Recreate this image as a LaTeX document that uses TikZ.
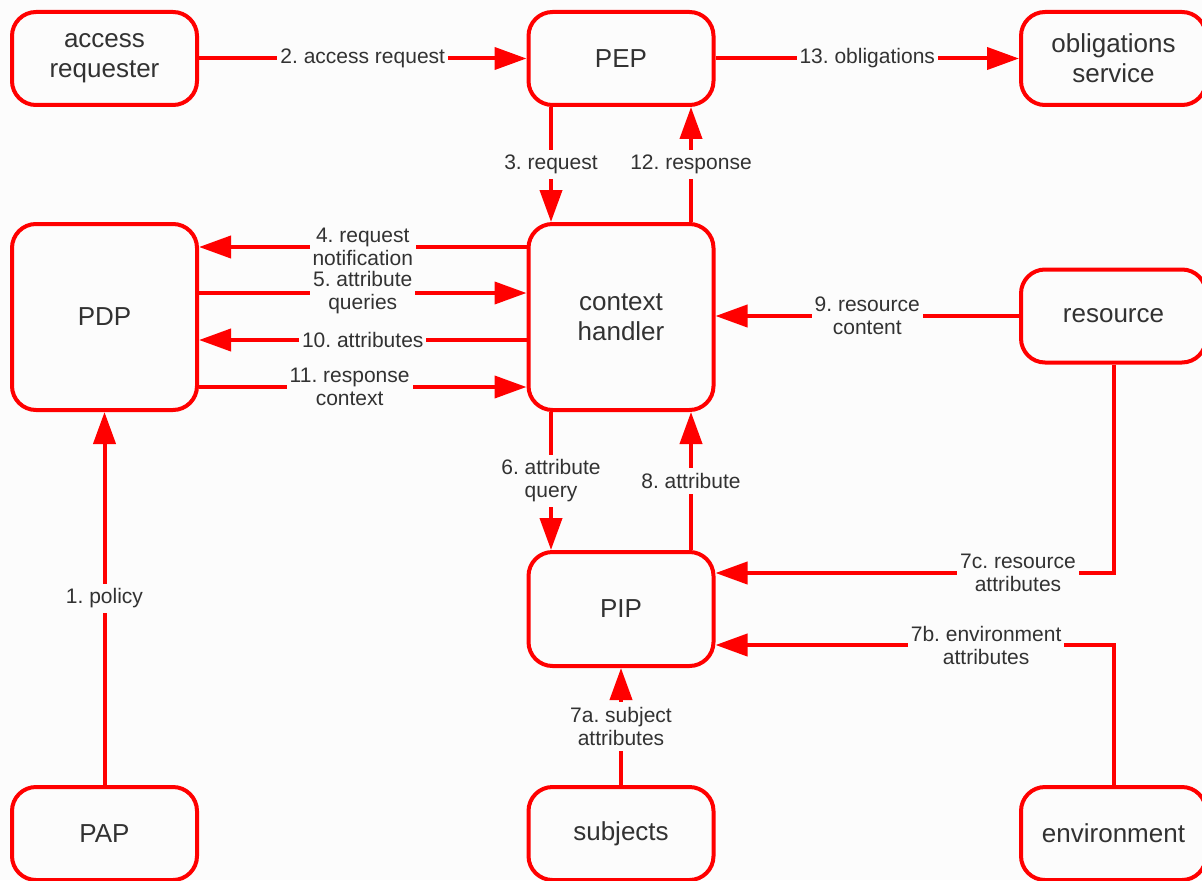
\documentclass[tikz,border=0pt]{standalone}
\usepackage{fontspec}
\setmainfont{Liberation Sans}
\usetikzlibrary{arrows.meta}
\definecolor{bgc}{RGB}{252,252,252}
\definecolor{txt}{RGB}{50,50,50}
\frenchspacing

\begin{document}
\begin{tikzpicture}[x=0.5pt,y=0.5pt,line width=2pt,draw=red,>={Triangle[length=16pt,width=11pt]}]
	\tikzstyle{box}=[draw=red,rounded corners=12pt,align=center,text=txt,
	font=\fontsize{13}{15}\selectfont,
	minimum width=92.5pt,minimum height=46.5pt,inner sep=2pt
	]
	\tikzstyle{big}=[box, minimum height=93pt];
	\tikzstyle{mid}=[box, minimum height=57pt];
	\tikzstyle{lbl}=[fill=bgc,text=txt,align=center,inner xsep=1.5pt,inner ysep=2.5pt,
	font=\fontsize{10.5}{11.5}\selectfont];

\useasboundingbox (0,0) rectangle (1202,880);
\clip (0,0) rectangle (1202,880);
\fill[bgc] (0,0) rectangle (1202,880);

\node[box](acc) at (104.5,821.5){access\\requester};
\node[box](pep) at (621,821.5){PEP};
\node[box](obl) at (1113.5,821.5){obligations\\service};
\node[big](pdp) at (104.5,563){PDP};
\node[big](ctx) at (621,563){context\\handler};
\node[box](res) at (1113.5,564){resource};
\node[mid](pip) at (621,271){PIP};
\node[box](pap) at (104.5,46.5){PAP};
\node[box](subj) at (621,46.5){subjects};
\node[box](env) at (1113.5,46.5){environment};

\draw[->] (pap) -- node[lbl]{1. policy} (pdp);
\draw[->] (acc) -- node[lbl]{2. access request} (pep);
\draw[->] ([xshift=-35pt]pep.south) -- node[lbl]{3. request} ([xshift=-35pt]ctx.north);
\draw[->] ([yshift=35pt]ctx.west) -- node[lbl]{4. request\\notification} ([yshift=35pt]pdp.east);
\draw[->] ([yshift=12pt]pdp.east) -- node[lbl]{5. attribute\\queries} ([yshift=12pt]ctx.west);
\draw[->] ([xshift=-35pt]ctx.south) -- node[lbl]{6. attribute\\query} ([xshift=-35pt]pip.north);
\draw[->] (subj) -- node[lbl]{7a. subject\\attributes} (pip);
\draw[->] (env) |- node[lbl,pos=0.66]{7b. environment\\attributes} ([yshift=-18pt]pip.east);
\draw[->] (res) |- node[lbl,pos=0.62]{7c. resource\\attributes} ([yshift=18pt]pip.east);
\draw[->] ([xshift=35pt]pip.north) -- node[lbl]{8. attribute} ([xshift=35pt]ctx.south);
\draw[->] (res.west) -- node[lbl]{9. resource\\content} (ctx.east |- res.west);
\draw[->] ([yshift=-11.5pt]ctx.west) -- node[lbl]{10. attributes} ([yshift=-11.5pt]pdp.east);
\draw[->] ([yshift=-35pt]pdp.east) -- node[lbl,pos=0.46]{11. response\\context} ([yshift=-35pt]ctx.west);
\draw[->] ([xshift=35pt]ctx.north) -- node[lbl]{12. response} ([xshift=35pt]pep.south);
\draw[->] (pep) -- node[lbl]{13. obligations} (obl);

\end{tikzpicture}
\end{document}
